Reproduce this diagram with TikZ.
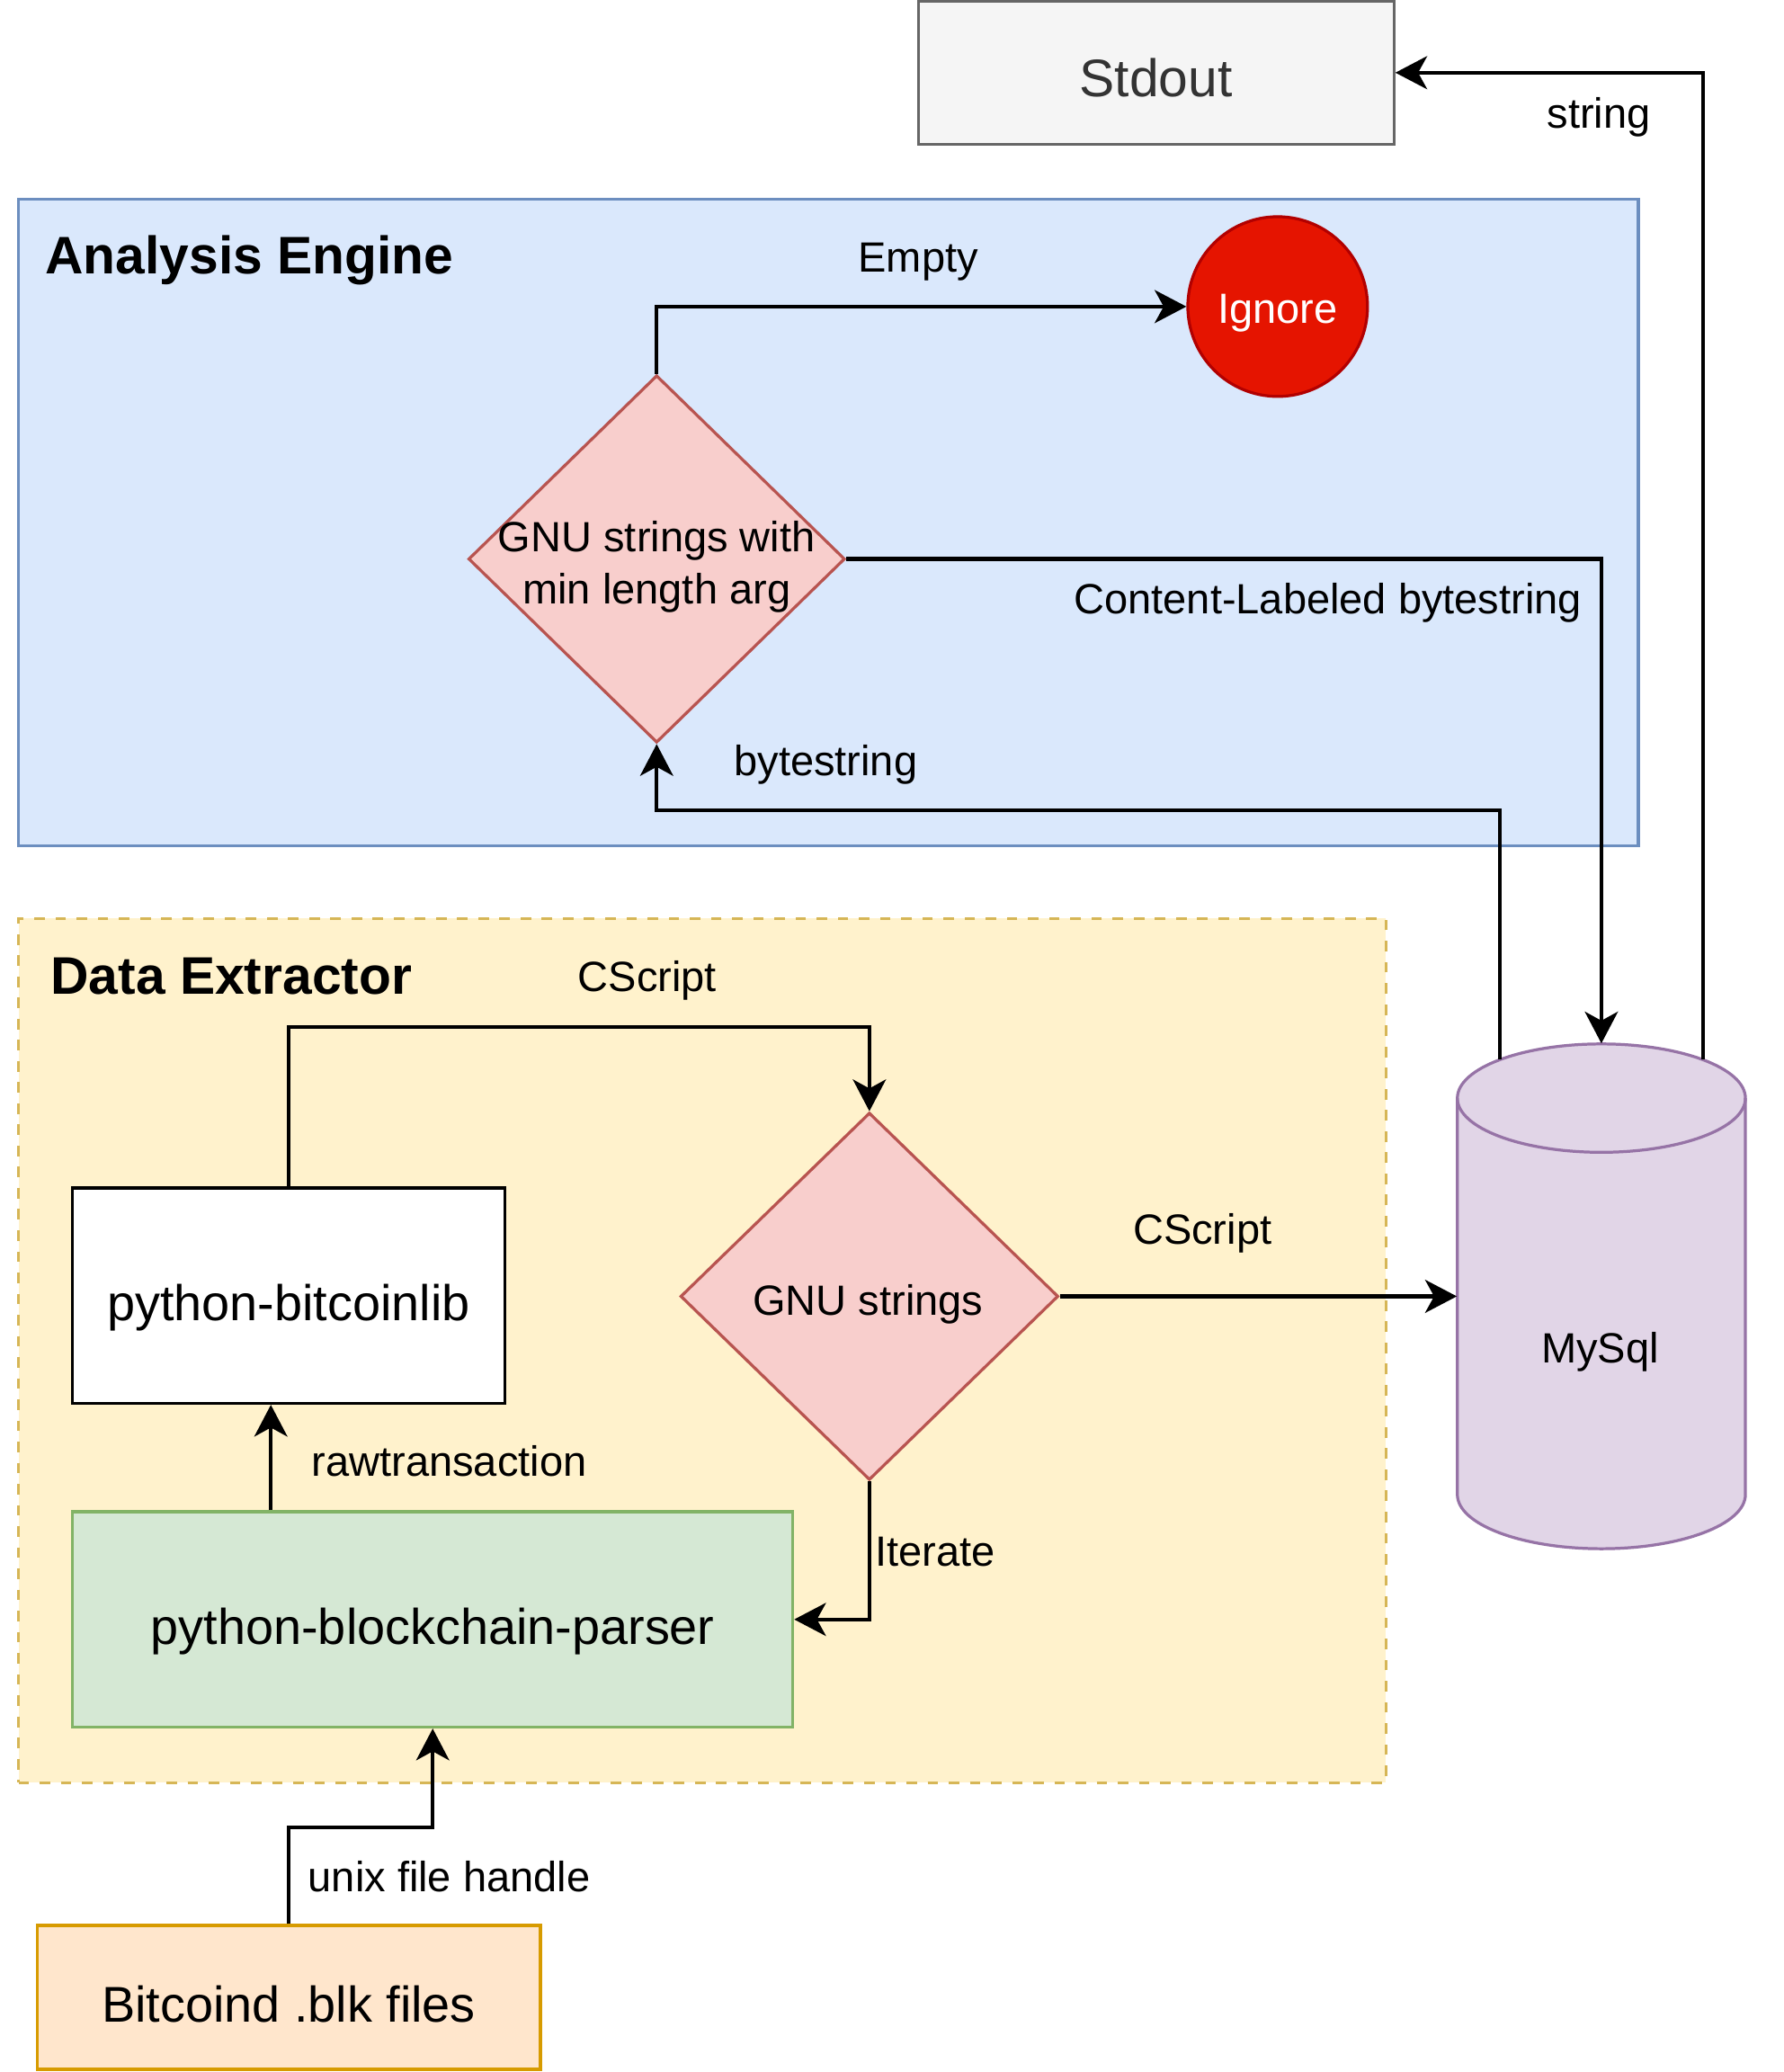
\documentclass[tikz,border=0pt]{standalone}
\usepackage{fontspec}
\setmainfont{Liberation Sans}
\usetikzlibrary{arrows.meta,shapes.geometric,calc}
\definecolor{stdfill}{HTML}{F5F5F5}
\definecolor{stdline}{HTML}{666666}
\definecolor{stdtext}{HTML}{333333}
\definecolor{aefill}{HTML}{DAE8FC}
\definecolor{aeline}{HTML}{6C8EBF}
\definecolor{defill}{HTML}{FFF2CC}
\definecolor{deline}{HTML}{D6B656}
\definecolor{igfill}{HTML}{E51400}
\definecolor{igline}{HTML}{B20000}
\definecolor{dmfill}{HTML}{F8CECC}
\definecolor{dmline}{HTML}{B85450}
\definecolor{grfill}{HTML}{D5E8D4}
\definecolor{grline}{HTML}{82B366}
\definecolor{orfill}{HTML}{FFE6CC}
\definecolor{orline}{HTML}{D79B00}
\definecolor{dbfill}{HTML}{E1D5E7}
\definecolor{dbline}{HTML}{9673A6}
\begin{document}
\begin{tikzpicture}[x=0.5pt,y=-0.5pt,
  box/.style={rectangle, line width=1.1pt, inner sep=0pt, font=\fontsize{19}{23}\selectfont, text height=23pt, text depth=4pt},
  cont/.style={rectangle, line width=1.1pt, inner sep=0pt},
  dmd/.style={diamond, draw=dmline, fill=dmfill, line width=1.1pt, inner sep=0pt},
  lab/.style={inner sep=0pt, font=\fontsize{16}{20}\selectfont, text height=14.6pt, text depth=3.4pt},
  ttl/.style={inner sep=0pt, anchor=west, font=\fontsize{20}{24}\selectfont\bfseries, text height=18.4pt, text depth=4.2pt},
  conn/.style={line width=1.4pt, -{Stealth[length=12pt,width=12.5pt,inset=3.4pt]}}]
\useasboundingbox[fill=white] (0,0) rectangle (1350,1568);

% containers
\node[cont, draw=aeline, fill=aefill, minimum width=613pt, minimum height=244.5pt] (ae) at (627,395.5) {};
\node[ttl] (aet) at (34,193) {Analysis Engine};
\node[cont, draw=deline, fill=defill, dash pattern=on 4pt off 4pt, minimum width=517.5pt, minimum height=327pt] (de) at (531.5,1022) {};
\node[ttl] (det) at (38,738) {Data Extractor};

% nodes
\node[box, draw=stdline, fill=stdfill, text=stdtext, font=\fontsize{20}{24}\selectfont, text height=22.4pt, text depth=4.2pt, minimum width=180pt, minimum height=54pt] (stdout) at (875,55) {Stdout};
\node[circle, draw=igline, fill=igfill, line width=1.1pt, text=white, minimum size=68pt, inner sep=0pt, font=\fontsize{16}{20}\selectfont, text height=16pt, text depth=3.4pt] (ignore) at (967,232) {Ignore};
\node[dmd, minimum width=142.5pt, minimum height=139pt] (d1) at (497,423) {};
\node[inner sep=0pt, align=center, font=\fontsize{16}{20}\selectfont] (d1t) at (497,429) {GNU strings with\\min length arg};
\node[dmd, minimum width=143pt, minimum height=139pt] (d2) at (658,981) {};
\node[lab] (d2t) at (657,984) {GNU strings};
\node[box, draw=black, fill=white, minimum width=163.5pt, minimum height=81.5pt] (pbl) at (218.5,980.5) {python-bitcoinlib};
\node[box, draw=grline, fill=grfill, minimum width=272.5pt, minimum height=81.5pt] (pbp) at (327.5,1225.5) {python-blockchain-parser};
\node[box, draw=orline, fill=orfill, minimum width=190.5pt, minimum height=54.5pt] (bit) at (218.5,1511.5) {Bitcoind .blk files};

% MySql cylinder
\node[inner sep=0pt, minimum width=109pt, minimum height=191pt] (mysql) at (1212,981) {};
\fill[dbfill] (1103,831) -- (1103,1131) arc[start angle=180, end angle=360, x radius=54.5pt, y radius=20.5pt] -- (1321,831) arc[start angle=0, end angle=180, x radius=54.5pt, y radius=20.5pt] -- cycle;
\draw[dbline, line width=1.1pt] (1103,831) -- (1103,1131) arc[start angle=180, end angle=360, x radius=54.5pt, y radius=20.5pt] -- (1321,831) arc[start angle=0, end angle=180, x radius=54.5pt, y radius=20.5pt] -- cycle;
\draw[dbline, line width=1.1pt] (1103,831) arc[start angle=180, end angle=360, x radius=54.5pt, y radius=20.5pt];
\node[lab] (mysqlt) at (1211,1020) {MySql};
\coordinate (dbL) at (1135,802);
\coordinate (dbR) at (1289,802);

% connectors
\draw[conn] (d1.north) |- (ignore.west);
\node[lab] (l1) at (695,195) {Empty};
\draw[conn] (d1.east) -| (mysql.north);
\node[lab] (l2) at (1005,453) {Content-Labeled bytestring};
\draw[conn] (dbL) -- (dbL |- 0,613) -| (d1.south);
\node[lab] (l3) at (625,576) {bytestring};
\draw[conn] (dbR) |- (stdout.east);
\node[lab] (l4) at (1210,86) {string};
\draw[conn] (pbl.north) -- (pbl.north |- 0,777) -| (d2.north);
\node[lab] (l5) at (490,739) {CScript};
\draw[conn] (d2.east) -- (mysql.west);
\node[lab] (l6) at (910,930) {CScript};
\draw[conn] (d2.south) |- (pbp.east);
\node[lab] (l7) at (708,1174) {Iterate};
\draw[conn] (pbp.north -| 205,0) -- (pbl.south -| 205,0);
\node[lab] (l8) at (340,1106) {rawtransaction};
\draw[conn] (bit.north) -- (bit.north |- 0,1383) -| (pbp.south);
\node[lab] (l9) at (340,1420) {unix file handle};
\end{tikzpicture}
\end{document}
